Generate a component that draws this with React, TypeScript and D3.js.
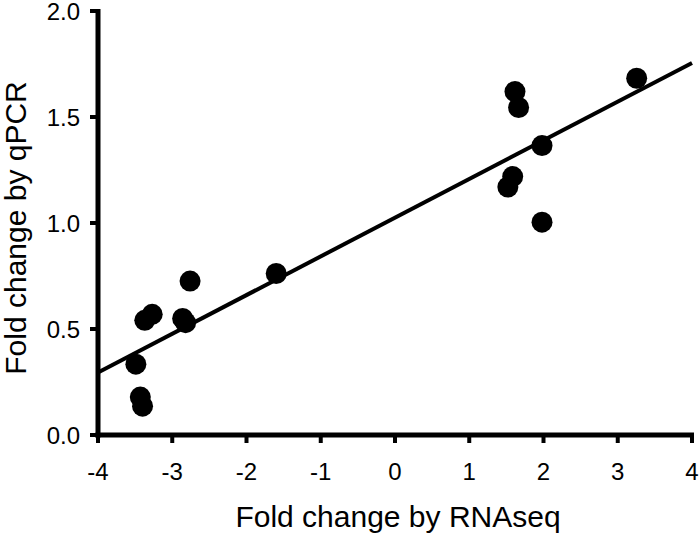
import React from "react";
import * as d3 from "d3";

const rnaseq = [-3.49, -3.43, -3.40, -3.37, -3.27, -2.86, -2.82, -2.76, -1.60, 1.52, 1.585, 1.616, 1.665, 1.98, 1.98, 3.255];
const qpcr = [0.334, 0.179, 0.136, 0.541, 0.569, 0.55, 0.53, 0.726, 0.762, 1.17, 1.219, 1.62, 1.545, 1.365, 1.004, 1.683];
const fitSlope = 0.1825;
const fitIntercept = 1.025;
const xTicks = [-4, -3, -2, -1, 0, 1, 2, 3, 4];
const yTicks = [0, 0.5, 1.0, 1.5, 2.0];
const xTitle = "Fold change by RNAseq";
const yTitle = "Fold change by qPCR";

const W = 699, H = 533;
const left = 98, right = 692, top = 11, bottom = 435;
const font = "Arial, 'Liberation Sans', sans-serif";

export default function App() {
  const x = d3.scaleLinear().domain([-4, 4]).range([left, right]);
  const y = d3.scaleLinear().domain([0, 2]).range([bottom, top]);
  const line = d3.line<number>().x((d) => x(d)).y((d) => y(fitIntercept + fitSlope * d));
  const fy = d3.format(".1f");
  const axisW = 5;
  return (
    <svg width={W} height={H} style={{ position: "absolute", left: 0, top: 0, background: "#fff" }}>
      <path d={line([-4, 4]) || ""} fill="none" stroke="#000" strokeWidth={4} />
      {rnaseq.map((d, i) => (
        <circle key={i} cx={x(d)} cy={y(qpcr[i])} r={10.5} fill="#000" />
      ))}
      <line x1={left} x2={left} y1={top - 2} y2={bottom + axisW / 2} stroke="#000" strokeWidth={axisW} />
      <line x1={left - axisW / 2} x2={right + 2} y1={bottom} y2={bottom} stroke="#000" strokeWidth={axisW} />
      {xTicks.map((t) => (
        <g key={t}>
          <line x1={x(t)} x2={x(t)} y1={bottom} y2={bottom + 8} stroke="#000" strokeWidth={4} />
          <text x={x(t)} y={480} textAnchor="middle" fontSize={24} fontFamily={font}>{String(t)}</text>
        </g>
      ))}
      {yTicks.map((t) => (
        <g key={t}>
          <line x1={left - 8} x2={left} y1={y(t)} y2={y(t)} stroke="#000" strokeWidth={4} />
          <text x={80} y={y(t) + 8.5} textAnchor="end" fontSize={24} fontFamily={font}>{fy(t)}</text>
        </g>
      ))}
      <text x={398} y={527} textAnchor="middle" fontSize={30} fontFamily={font}>{xTitle}</text>
      <text transform={`translate(26,228) rotate(-90)`} textAnchor="middle" fontSize={30} fontFamily={font}>{yTitle}</text>
    </svg>
  );
}
